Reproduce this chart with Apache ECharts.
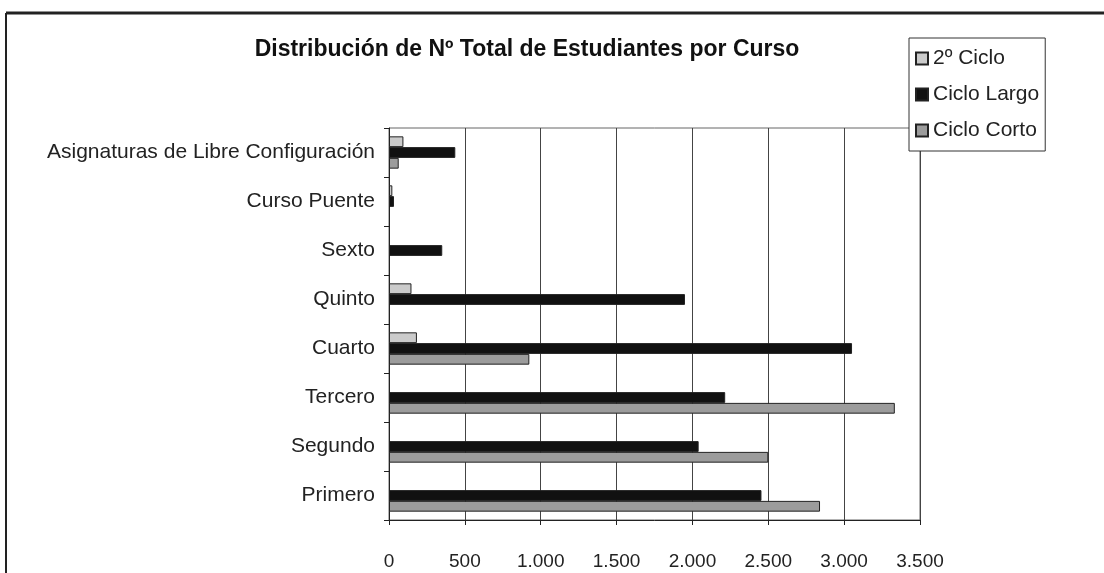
<!DOCTYPE html>
<html>
<head>
<meta charset="utf-8">
<script src="https://cdn.jsdelivr.net/npm/echarts@6/dist/echarts.min.js"></script>
<style>
  html, body { margin: 0; padding: 0; background: #fff; }
  #chart { width: 1104px; height: 573px; }
</style>
</head>
<body>
<div id="chart"></div>
<script>
// categories, bottom to top as on the chart
const cursos = ["Primero", "Segundo", "Tercero", "Cuarto", "Quinto", "Sexto", "Curso Puente", "Asignaturas de Libre Configuración"];
const segundoCiclo = [0, 0, 0, 184, 148, 0, 22, 95];
const cicloLargo = [2455, 2041, 2216, 3052, 1951, 351, 33, 437];
const cicloCorto = [2841, 2500, 3334, 925, 0, 0, 0, 64];
const xTicks = [0, 500, 1000, 1500, 2000, 2500, 3000, 3500];

const fmt = v => String(v).replace(/\B(?=(\d{3})+(?!\d))/g, ".");
const font = "Liberation Sans, Arial, sans-serif";

const chart = echarts.init(document.getElementById("chart"));

// zero values are left empty so no hairline bar is drawn at 0
function bar(name, data, color) {
  return {
    name, type: "bar", data: data.map(v => (v === 0 ? "-" : v)),
    barGap: "0%", barCategoryGap: "34%",
    itemStyle: { color, borderColor: "#222", borderWidth: 1 },
    emphasis: { disabled: true },
    animation: false
  };
}

chart.setOption({
  backgroundColor: "#fff",
  textStyle: { fontFamily: font },
  title: {
    text: "Distribución de Nº Total de Estudiantes por Curso",
    left: 522, top: 33, textAlign: "center",
    textStyle: { fontSize: 23, fontWeight: "bold", color: "#111", fontFamily: font }
  },
  legend: {
    orient: "vertical", left: 909, top: 38,
    data: ["2º Ciclo", "Ciclo Largo", "Ciclo Corto"],
    itemWidth: 12, itemHeight: 12, itemGap: 15,
    padding: [10, 6, 10, 6],
    borderColor: "#333", borderWidth: 1, backgroundColor: "#fff",
    textStyle: { fontSize: 21, color: "#222", fontFamily: font, padding: [0, 0, 0, 0] },
    icon: "rect",
    selectedMode: false
  },
  grid: {
    left: 389, right: 184, top: 128, bottom: 53,
    show: true, borderColor: "#666", borderWidth: 1, backgroundColor: "transparent"
  },
  xAxis: {
    type: "value", min: xTicks[0], max: xTicks[xTicks.length - 1], interval: 500,
    axisLine: { show: true, lineStyle: { color: "#222" } },
    axisTick: { show: true, length: 5, lineStyle: { color: "#222" } },
    splitLine: { show: true, lineStyle: { color: "#444", width: 1 } },
    axisLabel: { formatter: fmt, fontSize: 19, color: "#222", margin: 32, fontFamily: font }
  },
  yAxis: {
    type: "category", data: cursos,
    axisLine: { show: true, lineStyle: { color: "#222" } },
    axisTick: { show: true, length: 5, lineStyle: { color: "#222" } },
    axisLabel: { fontSize: 21, color: "#222", margin: 14, fontFamily: font }
  },
  series: [
    bar("2º Ciclo", segundoCiclo, "#cbcbcb"),
    bar("Ciclo Largo", cicloLargo, "#111111"),
    bar("Ciclo Corto", cicloCorto, "#9c9c9c")
  ],
  graphic: [
    { type: "line", shape: { x1: 6, y1: 13, x2: 1104, y2: 13 }, style: { stroke: "#222", lineWidth: 3 } },
    { type: "line", shape: { x1: 6, y1: 13, x2: 6, y2: 573 }, style: { stroke: "#222", lineWidth: 2 } }
  ]
});
</script>
</body>
</html>
